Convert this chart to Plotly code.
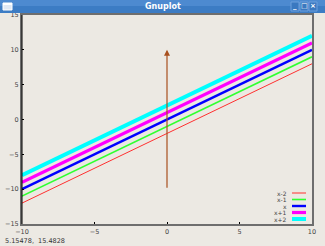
import plotly.graph_objects as go

# Data
x_vals = [-10, 10]
labels = ["x-2", "x-1", "x", "x+1", "x+2"]
y_series = [
    [-12, 8],
    [-11, 9],
    [-10, 10],
    [-9, 11],
    [-8, 12],
]
colors = ["#ff3030", "#30ff30", "#0000ff", "#ff00ff", "#00ffff"]
widths = [1, 1.6, 2.4, 3.2, 4]
arrow_x = [0, 0]
arrow_y = [-10, 10]
xticks = [-10, -5, 0, 5, 10]
yticks = [-15, -10, -5, 0, 5, 10, 15]
status_text = "5.15478,  15.4828"

W, H = 325, 246
BG = "#ECE9E3"

def px(xp):
    return xp / W

def py(yp):
    return 1 - yp / H

fig = go.Figure()
for lab, ys, c, w in zip(labels, y_series, colors, widths):
    fig.add_trace(go.Scatter(x=x_vals, y=ys, mode="lines", name=lab,
                             line=dict(color=c, width=w), showlegend=False))

shapes = []
annotations = []

# arrow
annotations.append(dict(x=arrow_x[1], y=arrow_y[1], ax=arrow_x[0], ay=arrow_y[0],
                        xref="x", yref="y", axref="x", ayref="y", text="",
                        showarrow=True, arrowhead=2, arrowsize=1, arrowwidth=1.2,
                        arrowcolor="#a8501e"))

# title bar
shapes.append(dict(type="rect", xref="paper", yref="paper", x0=0, x1=1,
                   y0=py(13), y1=1, line=dict(width=0), fillcolor="#3c7cc4", layer="above"))
shapes.append(dict(type="rect", xref="paper", yref="paper", x0=0, x1=1,
                   y0=py(6), y1=1, line=dict(width=0), fillcolor="#4d8ad0", layer="above"))
annotations.append(dict(x=0.5, y=py(6.5), xref="paper", yref="paper", text="<b>Gnuplot</b>",
                        showarrow=False, font=dict(family="DejaVu Sans", size=8, color="white"),
                        xanchor="center", yanchor="middle"))
# window icon
shapes.append(dict(type="rect", xref="paper", yref="paper", x0=px(3), x1=px(12),
                   y0=py(10), y1=py(3), line=dict(width=1, color="#ffffff"), fillcolor="#dfe8f4", layer="above"))
shapes.append(dict(type="rect", xref="paper", yref="paper", x0=px(3), x1=px(12),
                   y0=py(5), y1=py(3), line=dict(width=0), fillcolor="#ffffff", layer="above"))
# buttons
for bx, sym in [(295, "_"), (304, "□"), (313, "×")]:
    shapes.append(dict(type="rect", xref="paper", yref="paper", x0=px(bx - 4), x1=px(bx + 4),
                       y0=py(11), y1=py(2), line=dict(width=1, color="#6d9fdc"),
                       fillcolor="#3a78c0", layer="above"))
    annotations.append(dict(x=px(bx), y=py(6.5), xref="paper", yref="paper", text="<b>%s</b>" % sym,
                            showarrow=False, font=dict(family="DejaVu Sans", size=7, color="white"),
                            xanchor="center", yanchor="middle"))

# plot frame: left black line
shapes.append(dict(type="line", xref="paper", yref="paper", x0=px(22), x1=px(22),
                   y0=py(224), y1=py(15), line=dict(color="black", width=1), layer="above"))

# legend
leg_rows = [193, 199.5, 206, 212.5, 219]
for lab, c, w, yr in zip(labels, colors, widths, leg_rows):
    shapes.append(dict(type="line", xref="paper", yref="paper", x0=px(292), x1=px(306),
                       y0=py(yr), y1=py(yr), line=dict(color=c, width=w), layer="above"))
    annotations.append(dict(x=px(289), y=py(yr), xref="paper", yref="paper", text=lab,
                            showarrow=False, font=dict(family="DejaVu Sans", size=6, color="#444"),
                            xanchor="right", yanchor="middle"))

# status bar text
annotations.append(dict(x=px(3), y=py(240.5), xref="paper", yref="paper", text=status_text,
                        showarrow=False, font=dict(family="DejaVu Sans", size=6.5, color="#333"),
                        xanchor="left", yanchor="middle"))

fig.update_layout(
    width=W, height=H, margin=dict(l=0, r=0, t=0, b=0, autoexpand=False),
    paper_bgcolor=BG, plot_bgcolor=BG, showlegend=False,
    shapes=shapes, annotations=annotations,
    xaxis=dict(domain=[px(22), px(312)], range=[-10, 10], tickvals=xticks,
               showgrid=False, zeroline=False, showline=True, linecolor="#6e6e6e",
               linewidth=2, mirror=True, ticks="inside", ticklen=2, tickcolor="black",
               automargin=False,
               tickfont=dict(family="DejaVu Sans", size=6.5, color="#444")),
    yaxis=dict(domain=[py(224), py(15)], range=[-15, 15], tickvals=yticks,
               showgrid=False, zeroline=False, showline=True, linecolor="#6e6e6e",
               linewidth=2, mirror=True, ticks="inside", ticklen=2, tickcolor="black",
               automargin=False,
               tickfont=dict(family="DejaVu Sans", size=6.5, color="#444")),
)

fig.write_html("out.html")
